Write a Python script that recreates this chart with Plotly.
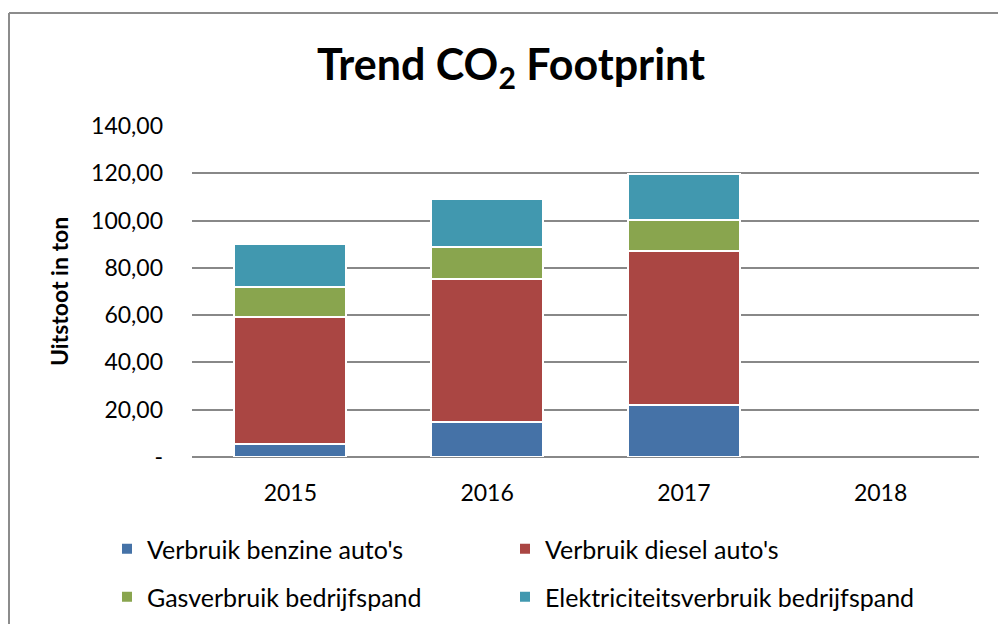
import plotly.graph_objects as go

years = ["2015", "2016", "2017", "2018"]
benzine = [5.4, 14.8, 22.0, None]
diesel = [53.9, 60.4, 65.2, None]
gas = [12.4, 13.5, 12.9, None]
elektriciteit = [18.4, 20.3, 19.5, None]

series_names = ["Verbruik benzine auto's", "Verbruik diesel auto's",
                "Gasverbruik bedrijfspand", "Elektriciteitsverbruik bedrijfspand"]
series_values = [benzine, diesel, gas, elektriciteit]
colors = ["#4572A7", "#AA4643", "#89A54E", "#4198AF"]
legend_ids = ["legend", "legend2", "legend3", "legend4"]

tick_vals = [0, 20, 40, 60, 80, 100, 120, 140]
tick_text = ["-", "20,00", "40,00", "60,00", "80,00", "100,00", "120,00", "140,00"]

FONT = "Lato, Calibri, Carlito, sans-serif"

fig = go.Figure()
for name, vals, col, lg in zip(series_names, series_values, colors, legend_ids):
    fig.add_trace(go.Bar(
        x=years, y=vals, name=name, legend=lg,
        marker=dict(color=col, line=dict(color="white", width=2)),
    ))

W, H = 998, 624
L, R, T, B = 192, 19, 126, 167
pw, ph = W - L - R, H - T - B

def px_x(x):
    return (x - L) / pw

def px_y(y):
    return (H - B - y) / ph

leg_common = dict(orientation="h", font=dict(family=FONT, size=25, color="#000"),
                  bgcolor="rgba(0,0,0,0)", xanchor="left", yanchor="middle",
                  itemclick=False)

fig.update_layout(
    width=W, height=H,
    barmode="stack", bargap=0.43,
    paper_bgcolor="white", plot_bgcolor="white",
    margin=dict(l=L, r=R, t=T, b=B, autoexpand=False),
    font=dict(family=FONT, size=22, color="#000"),
    title=dict(text="<b>Trend CO<sub>2</sub> Footprint</b>", x=0.512, xanchor="center",
               y=1 - 65 / H, yanchor="middle",
               font=dict(family=FONT, size=43, color="#000")),
    xaxis=dict(showgrid=False, showline=False, ticks="", tickfont=dict(size=23),
               ticklabelstandoff=20),
    yaxis=dict(range=[0, 140], tickvals=tick_vals, ticktext=tick_text,
               showgrid=True, gridcolor="#888888", gridwidth=1.5,
               zeroline=True, zerolinecolor="#888888", zerolinewidth=1.5,
               ticks="", tickfont=dict(size=23), ticklabelstandoff=28,
               title=dict(text="<b>Uitstoot in ton</b>", font=dict(size=23), standoff=16)),
    legend=dict(x=px_x(107), y=px_y(549), **leg_common),
    legend2=dict(x=px_x(505), y=px_y(549), **leg_common),
    legend3=dict(x=px_x(107), y=px_y(597), **leg_common),
    legend4=dict(x=px_x(505), y=px_y(597), **leg_common),
    showlegend=True,
    shapes=[
        dict(type="line", xref="paper", yref="paper",
             x0=px_x(9), x1=px_x(1005), y0=px_y(13), y1=px_y(13),
             line=dict(color="#8c8c8c", width=2)),
        dict(type="line", xref="paper", yref="paper",
             x0=px_x(9), x1=px_x(9), y0=px_y(13), y1=px_y(630),
             line=dict(color="#8c8c8c", width=2)),
    ],
)

fig.write_html("out.html", config={"displayModeBar": False},
               post_script="document.body.style.margin='0';document.body.style.overflow='hidden';")
